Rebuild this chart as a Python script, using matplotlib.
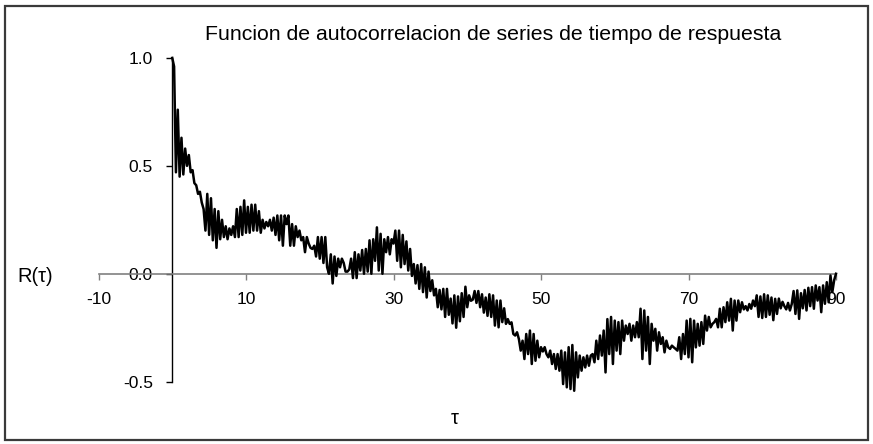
import numpy as np
import matplotlib
matplotlib.use("Agg")
import matplotlib.pyplot as plt
from matplotlib.patches import Rectangle

plt.rcParams["font.family"] = ["Liberation Sans", "DejaVu Sans"]
plt.rcParams["axes.unicode_minus"] = False

# Autocorrelation R(tau), sampled every 0.25 from tau = 0 to tau = 90
tau_step = 0.25
r_tau = [
    1.00, 0.96, 0.47, 0.76,
    0.45, 0.63, 0.46, 0.58,
    0.50, 0.55, 0.47, 0.48,
    0.42, 0.41, 0.37, 0.38,
    0.33, 0.30, 0.20, 0.37,
    0.18, 0.35, 0.155, 0.30,
    0.12, 0.29, 0.16, 0.25,
    0.17, 0.22, 0.16, 0.21,
    0.18, 0.22, 0.17, 0.30,
    0.17, 0.31, 0.18, 0.34,
    0.19, 0.31, 0.19, 0.32,
    0.20, 0.32, 0.20, 0.29,
    0.19, 0.25, 0.21, 0.24,
    0.22, 0.25, 0.20, 0.26,
    0.18, 0.27, 0.155, 0.27,
    0.13, 0.27, 0.23, 0.27,
    0.13, 0.23, 0.13, 0.22,
    0.17, 0.20, 0.155, 0.17,
    0.10, 0.17, 0.14, 0.12,
    0.115, 0.13, 0.08, 0.17,
    0.07, 0.17, 0.05, 0.17,
    0.03, 0.00, 0.09, -0.045,
    0.08, -0.01, 0.07, 0.03,
    0.07, 0.05, 0.01, 0.01,
    0.02, 0.07, -0.02, 0.10,
    -0.02, 0.09, 0.015, 0.11,
    0.00, 0.115, 0.01, 0.155,
    0.00, 0.16, 0.06, 0.215,
    0.015, 0.185, 0.00, 0.16,
    0.10, 0.17, 0.09, 0.16,
    0.14, 0.20, 0.06, 0.20,
    0.03, 0.18, 0.045, 0.15,
    0.015, 0.115, -0.01, 0.045,
    -0.045, 0.04, -0.07, 0.045,
    -0.085, 0.03, -0.11, 0.01,
    -0.08, -0.03, -0.10, -0.07,
    -0.155, -0.075, -0.165, -0.07,
    -0.20, -0.07, -0.19, -0.115,
    -0.23, -0.10, -0.25, -0.105,
    -0.22, -0.09, -0.20, -0.06,
    -0.155, -0.10, -0.125, -0.12,
    -0.08, -0.135, -0.08, -0.155,
    -0.095, -0.18, -0.11, -0.195,
    -0.095, -0.20, -0.10, -0.24,
    -0.124, -0.248, -0.124, -0.224,
    -0.16, -0.232, -0.21, -0.232,
    -0.225, -0.279, -0.286, -0.271,
    -0.302, -0.356, -0.31, -0.395,
    -0.279, -0.372, -0.263, -0.418,
    -0.279, -0.403, -0.31, -0.387,
    -0.34, -0.36, -0.34, -0.372,
    -0.387, -0.356, -0.418, -0.372,
    -0.441, -0.372, -0.449, -0.356,
    -0.511, -0.364, -0.526, -0.34,
    -0.534, -0.33, -0.542, -0.364,
    -0.48, -0.379, -0.449, -0.387,
    -0.434, -0.379, -0.426, -0.379,
    -0.372, -0.41, -0.31, -0.395,
    -0.286, -0.379, -0.263, -0.457,
    -0.21, -0.372, -0.20, -0.418,
    -0.217, -0.356, -0.224, -0.372,
    -0.217, -0.31, -0.24, -0.279,
    -0.232, -0.31, -0.24, -0.294,
    -0.224, -0.294, -0.162, -0.395,
    -0.17, -0.356, -0.20, -0.418,
    -0.232, -0.31, -0.255, -0.356,
    -0.271, -0.325, -0.294, -0.364,
    -0.31, -0.341, -0.348, -0.333,
    -0.341, -0.348, -0.356, -0.294,
    -0.395, -0.279, -0.372, -0.217,
    -0.387, -0.209, -0.41, -0.217,
    -0.341, -0.232, -0.333, -0.224,
    -0.325, -0.194, -0.263, -0.20,
    -0.248, -0.232, -0.224, -0.209,
    -0.248, -0.162, -0.248, -0.155,
    -0.224, -0.132, -0.217, -0.116,
    -0.263, -0.124, -0.217, -0.124,
    -0.178, -0.132, -0.165, -0.15,
    -0.17, -0.14, -0.162, -0.124,
    -0.15, -0.10, -0.20, -0.105,
    -0.205, -0.095, -0.20, -0.10,
    -0.19, -0.11, -0.215, -0.116,
    -0.186, -0.115, -0.16, -0.13,
    -0.15, -0.165, -0.135, -0.17,
    -0.14, -0.08, -0.186, -0.077,
    -0.209, -0.09, -0.16, -0.075,
    -0.17, -0.065, -0.15, -0.062,
    -0.162, -0.054, -0.124, -0.062,
    -0.178, -0.054, -0.139, -0.039,
    -0.132, -0.008, -0.085, -0.03,
    0.00,
]
tau = np.arange(len(r_tau)) * tau_step

x_ticks = [-10, 10, 30, 50, 70, 90]
y_ticks = [-0.5, 0.0, 0.5, 1.0]

title = "Funcion de autocorrelacion de series de tiempo de respuesta"

W, H = 873, 444
fig = plt.figure(figsize=(W / 100, H / 100), dpi=100)
fig.patch.set_facecolor("white")

# chart frame
fig.add_artist(Rectangle((5 / W, 1 - 440 / H), 863 / W, 434 / H,
                         transform=fig.transFigure, fill=False,
                         edgecolor="#3a3a3a", linewidth=1.6))

ax = fig.add_axes([98.5 / W, 1 - 381.7 / H, 737.5 / W, 323.8 / H])
ax.set_xlim(-10, 90)
ax.set_ylim(-0.5, 1.0)
ax.patch.set_alpha(0)

for side in ("top", "right"):
    ax.spines[side].set_visible(False)
ax.spines["left"].set_position(("data", 0))
ax.spines["bottom"].set_position(("data", 0))
ax.spines["left"].set_color("black")
ax.spines["left"].set_linewidth(1.0)
ax.spines["bottom"].set_color("#808080")
ax.spines["bottom"].set_linewidth(1.2)

ax.set_xticks(x_ticks)
ax.set_xticklabels([str(v) for v in x_ticks])
ax.set_yticks(y_ticks)
ax.set_yticklabels([f"{v:.1f}" for v in y_ticks])

ax.tick_params(axis="x", direction="out", length=4, width=1, color="#808080",
               labelsize=12.5, pad=9, labelcolor="black")
ax.tick_params(axis="y", direction="out", length=4, width=1, color="black",
               labelsize=12.5, pad=10, labelcolor="black")

ax.plot(tau, r_tau, color="black", linewidth=1.8, zorder=3, clip_on=False)

fig.text(493 / W, 1 - 34 / H, title, ha="center", va="center", fontsize=15.3)
fig.text(17 / W, 1 - 276 / H, "R(τ)", ha="left", va="center", fontsize=14.5)
fig.text(455 / W, 1 - 418 / H, "τ", ha="center", va="center", fontsize=14.5)

fig.savefig("out.png", dpi=100)
